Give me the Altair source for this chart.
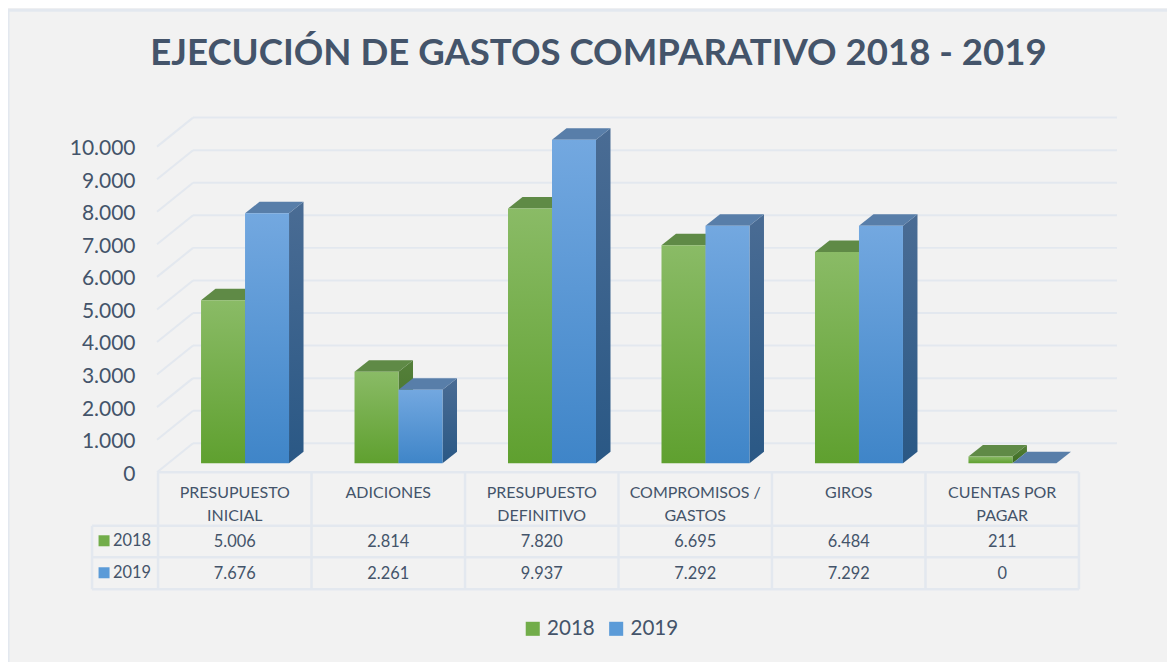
import altair as alt
import pandas as pd

CATEGORIES = ["PRESUPUESTO\nINICIAL", "ADICIONES", "PRESUPUESTO\nDEFINITIVO",
              "COMPROMISOS /\nGASTOS", "GIROS", "CUENTAS POR\nPAGAR"]
VALUES_2018 = [5006, 2814, 7820, 6695, 6484, 211]
VALUES_2019 = [7676, 2261, 9937, 7292, 7292, 0]
YEARS = ["2018", "2019"]
Y_TICKS = list(range(0, 11000, 1000))
TITLE = "EJECUCIÓN DE GASTOS COMPARATIVO 2018 - 2019"

W, H = 1167, 660
S = 1175 / (W + 16)    # the photograph fits the page width into the window
M = 8
TOP = M * S + 2        # picture px of the chart's top edge
COL = 153.5            # picture px per category
X0 = 158               # picture px of category 0 left edge
K = 0.03257            # picture px per unit
Y0 = 463               # picture px of value 0 (bar front)
ux = lambda px: (px - X0) / COL
uy = lambda px: (Y0 - px) / K
TXT = "#44546a"
GRID = "#e3e8ef"
FONT = "Lato"

x_scale = alt.Scale(domain=[ux(M * S), ux((M + W) * S)], nice=False, zero=False)
y_scale = alt.Scale(domain=[uy(TOP + H * S), uy(TOP)], nice=False, zero=False)
Y_AXIS = alt.Axis(
    values=Y_TICKS, domain=False, ticks=False, grid=False, title=None,
    offset=-(135 / S - M), labelPadding=0, labelOffset=11 / S, labelFont=FONT, labelFontSize=21 / S,
    labelColor=TXT, labelAlign="right", labelBaseline="middle",
    labelExpr="replace(format(datum.value, ','), ',', '.')")

BAR_L = 43 / COL
BAR_W = 44 / COL
DX = 14.5 / COL
DY = 11.5 / K


def grad(top, bottom):
    return alt.Gradient(gradient="linear", x1=0, x2=0, y1=0, y2=1,
                        stops=[alt.GradientStop(offset=0, color=top),
                               alt.GradientStop(offset=1, color=bottom)])


def xy(**extra):
    return dict(x=alt.X("x:Q", scale=x_scale, axis=None),
                y=alt.Y("y:Q", scale=y_scale, axis=Y_AXIS), **extra)


def bar_layers(values, slot, front, top, side):
    fr, tp, sd = [], [], []
    for i, v in enumerate(values):
        a = i + BAR_L + slot * BAR_W
        b = a + BAR_W
        fr.append(dict(x=a, x2=b, y=v, y2=0))
        tp += [dict(i=i, y=v, x=a, x2=b), dict(i=i, y=v + DY, x=a + DX, x2=b + DX)]
        sd += [dict(i=i, x=b, y=v, y2=0), dict(i=i, x=b + DX, y=v + DY, y2=DY)]
    side_l = alt.Chart(pd.DataFrame(sd)).mark_area(color=grad(*side), orient="vertical").encode(
        **xy(y2="y2:Q", detail="i:N"))
    top_l = alt.Chart(pd.DataFrame(tp)).mark_area(color=top, orient="horizontal").encode(
        **xy(x2="x2:Q", detail="i:N"))
    front_l = alt.Chart(pd.DataFrame(fr)).mark_rect(color=grad(*front)).encode(
        **xy(x2="x2:Q", y2="y2:Q"))
    return [side_l, top_l, front_l]


# back wall and left wall grid
FLOOR_FRONT = uy(472)
WALL_BACK = uy(443)
wall_l = ux(193)
wall_r = ux(1117)
left_x = ux(157)
grid_y = [dict(x=wall_l, x2=wall_r, y=t + WALL_BACK) for t in Y_TICKS]
diag = []
for t in Y_TICKS:
    diag += [dict(t=t, x=left_x, y=t + FLOOR_FRONT), dict(t=t, x=wall_l, y=t + WALL_BACK)]

grid_h = alt.Chart(pd.DataFrame(grid_y)).mark_rule(color=GRID, strokeWidth=2).encode(**xy(x2="x2:Q"))
grid_d = alt.Chart(pd.DataFrame(diag)).mark_line(color=GRID, strokeWidth=2).encode(**xy(detail="t:N"))

# table
ROW_T, ROW_A, ROW_B, ROW_C = uy(472), uy(525.5), uy(557), uy(589)
tbl_l = ux(92)
t_h = [dict(x=0, x2=6, y=ROW_T)] + [dict(x=tbl_l, x2=6, y=r) for r in (ROW_A, ROW_B, ROW_C)]
t_v = [dict(x=i, y=ROW_T, y2=ROW_C) for i in range(7)] + [dict(x=tbl_l, y=ROW_A, y2=ROW_C)]
tbl_h = alt.Chart(pd.DataFrame(t_h)).mark_rule(color=GRID, strokeWidth=2.5).encode(**xy(x2="x2:Q"))
tbl_v = alt.Chart(pd.DataFrame(t_v)).mark_rule(color=GRID, strokeWidth=2.5).encode(**xy(y2="y2:Q"))

head = alt.Chart(pd.DataFrame([dict(x=i + 0.5, y=uy(485), t=c) for i, c in enumerate(CATEGORIES)])).mark_text(
    font=FONT, fontSize=16 / S, color=TXT, lineBreak="\n", lineHeight=23 / S, baseline="top", align="center"
).encode(**xy(text="t:N"))


def num(v):
    return f"{v:,}".replace(",", ".")


cells = []
for i, (a, b) in enumerate(zip(VALUES_2018, VALUES_2019)):
    cells.append(dict(x=i + 0.5, y=uy(541.5), t=num(a)))
    cells.append(dict(x=i + 0.5, y=uy(573.5), t=num(b)))
cell_l = alt.Chart(pd.DataFrame(cells)).mark_text(
    font=FONT, fontSize=16.4 / S, color=TXT, baseline="middle", align="center").encode(**xy(text="t:N"))

row_lab = alt.Chart(pd.DataFrame([dict(x=ux(113), y=uy(540.5), t=YEARS[0]),
                                  dict(x=ux(113), y=uy(572.5), t=YEARS[1])])).mark_text(
    font=FONT, fontSize=16.4 / S, color=TXT, baseline="middle", align="left").encode(**xy(text="t:N"))

swatches = alt.Chart(pd.DataFrame([dict(x=ux(104), y=uy(540.5), year=YEARS[0]),
                                   dict(x=ux(104), y=uy(572.5), year=YEARS[1])])).mark_square(
    size=121 / S / S, opacity=1).encode(
    **xy(color=alt.Color("year:N", scale=alt.Scale(domain=YEARS, range=["#72ad4a", "#5b9bd8"]),
                         legend=alt.Legend(orient="none", legendX=518, legendY=612, direction="horizontal",
                                           title=None, symbolType="square", symbolSize=200,
                                           labelFont=FONT, labelFontSize=20.6 / S, labelColor=TXT,
                                           symbolStrokeWidth=0, columnPadding=11, labelOffset=4))))

# panel edges
edge_t = alt.Chart(pd.DataFrame([dict(x=ux(M * S), x2=ux((M + W) * S), y=uy(TOP))])).mark_rule(
    color=GRID, strokeWidth=3).encode(**xy(x2="x2:Q"))
edge_l = alt.Chart(pd.DataFrame([dict(x=ux(M * S), y=uy(TOP), y2=uy(TOP + H * S))])).mark_rule(
    color=GRID, strokeWidth=3).encode(**xy(y2="y2:Q"))

layers = [edge_t, edge_l, grid_h, grid_d, tbl_h, tbl_v, head, cell_l, row_lab, swatches]
layers += bar_layers(VALUES_2018, 0, ("#8abb66", "#5fa02f"), "#5f8a46", ("#55803a", "#3c6c22"))
layers += bar_layers(VALUES_2019, 1, ("#73a8e0", "#3f85c8"), "#587ea9", ("#4a6c94", "#2a5885"))

chart = alt.layer(*layers).properties(
    width=W, height=H, background="#f2f2f2",
    padding=0, autosize=alt.AutoSizeParams(type="none"),
    title=alt.TitleParams(text=TITLE, font=FONT, fontSize=36.6 / S, fontWeight="bold", color=TXT,
                          anchor="middle", frame="group", offset=-66, dy=35, dx=11, baseline="bottom"),
).configure_view(stroke=None)

chart.save("out.html", embed_options={"renderer": "svg", "actions": False})
